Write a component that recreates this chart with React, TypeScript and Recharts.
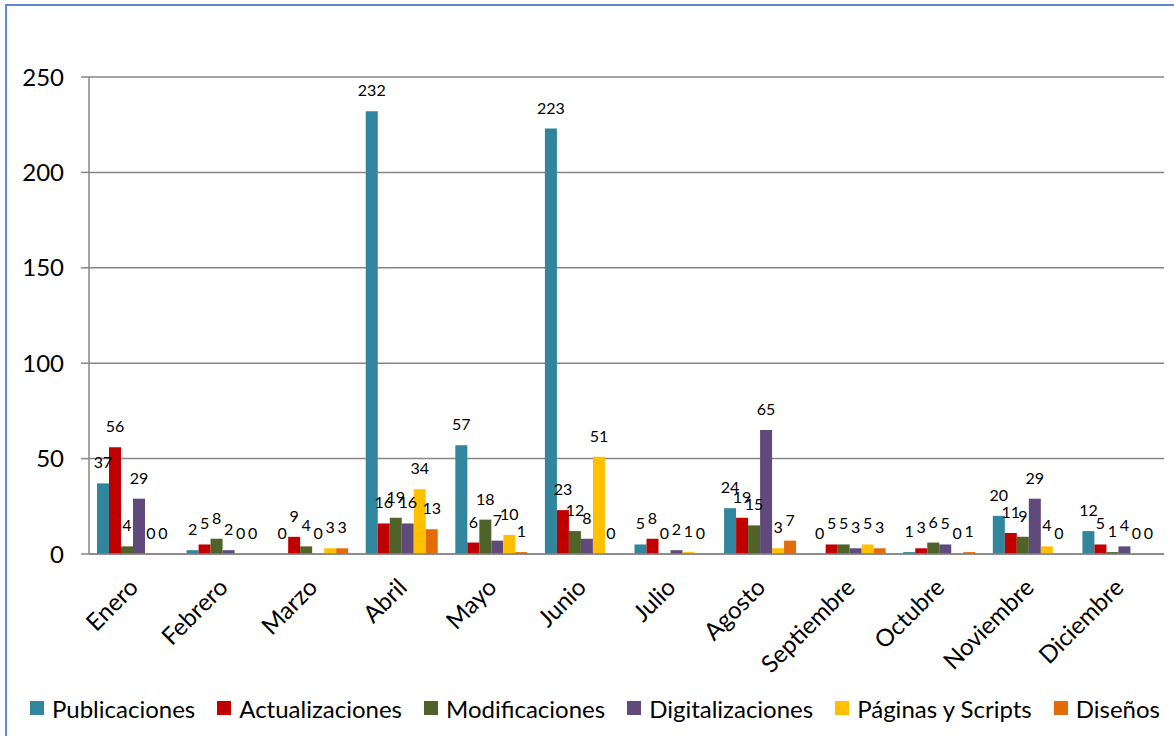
import { Bar, BarChart, CartesianGrid, LabelList, Legend, XAxis, YAxis } from "recharts";

const months = [
  "Enero", "Febrero", "Marzo", "Abril", "Mayo", "Junio",
  "Julio", "Agosto", "Septiembre", "Octubre", "Noviembre", "Diciembre",
];

const publicaciones = [37, 2, 0, 232, 57, 223, 5, 24, 0, 1, 20, 12];
const actualizaciones = [56, 5, 9, 16, 6, 23, 8, 19, 5, 3, 11, 5];
const modificaciones = [4, 8, 4, 19, 18, 12, 0, 15, 5, 6, 9, 1];
const digitalizaciones = [29, 2, 0, 16, 7, 8, 2, 65, 3, 5, 29, 4];
const paginas = [0, 0, 3, 34, 10, 51, 1, 3, 5, 0, 4, 0];
const disenos = [0, 0, 3, 13, 1, 0, 0, 7, 3, 1, 0, 0];

const yTicks = [0, 50, 100, 150, 200, 250];
const edgeTicks = [0, 1, 2, 3, 4, 5, 6, 7, 8, 9, 10, 11, 12];

const series = [
  { key: "pub", name: "Publicaciones", color: "#31859C", values: publicaciones },
  { key: "act", name: "Actualizaciones", color: "#C00000", values: actualizaciones },
  { key: "mod", name: "Modificaciones", color: "#4F6228", values: modificaciones },
  { key: "dig", name: "Digitalizaciones", color: "#604A7B", values: digitalizaciones },
  { key: "pag", name: "Páginas y Scripts", color: "#FFC000", values: paginas },
  { key: "dis", name: "Diseños", color: "#E36C09", values: disenos },
];

const data = months.map((m, i) => {
  const row: Record<string, string | number> = { month: m };
  series.forEach((s) => (row[s.key] = s.values[i]));
  return row;
});

const FONT = "Lato, 'Open Sans', sans-serif";

function MonthTick({ x, y, payload }: { x?: number; y?: number; payload?: { value: string } }) {
  return (
    <g transform={`translate(${(x ?? 0) + 0},${(y ?? 0) + 21})`}>
      <text
        textAnchor="end"
        transform="rotate(-45)"
        fontSize={24}
        fontFamily={FONT}
        fill="#000"
        dy="0.35em"
      >
        {payload?.value}
      </text>
    </g>
  );
}

// value label above every bar, zeros included
function ValueLabel(props: any) {
  const { x, y, width, value } = props;
  if (value == null) return null;
  return (
    <text
      x={Number(x) + Number(width) / 2}
      y={Number(y) - 15}
      textAnchor="middle"
      fontSize={16}
      fontFamily={FONT}
      fill="#000"
    >
      {value}
    </text>
  );
}

function LegendContent() {
  return (
    <div
      style={{
        display: "flex",
        justifyContent: "flex-start",
        alignItems: "center",
        height: 40,
        fontFamily: FONT,
        fontSize: 24,
        color: "#000",
        paddingLeft: 30,
        whiteSpace: "nowrap",
        width: 1174,
        boxSizing: "border-box",
      }}
    >
      {series.map((s) => (
        <div key={s.key} style={{ display: "flex", alignItems: "center", marginRight: 22, flexShrink: 0 }}>
          <span
            style={{ width: 14, height: 14, background: s.color, display: "inline-block", marginRight: 8 }}
          />
          <span>{s.name}</span>
        </div>
      ))}
    </div>
  );
}

export default function App() {
  return (
    <div
      style={{
        position: "absolute",
        left: 0,
        top: 0,
        width: 1174,
        height: 736,
        overflow: "hidden",
        background: "#fff",
      }}
    >
      <div
        style={{
          position: "absolute",
          left: 5,
          top: 4,
          width: 1300,
          height: 800,
          borderLeft: "2px solid #5B8BD6",
          borderTop: "2px solid #5B8BD6",
        }}
      />
      <BarChart
        width={1174}
        height={736}
        data={data}
        margin={{ top: 77, right: 10, bottom: 8, left: 0 }}
        barCategoryGap={8}
        barGap={0}
      >
        <CartesianGrid horizontal vertical={false} stroke="#868686" strokeWidth={1.5} yAxisId="y" xAxisId="cat" />
        <XAxis
          xAxisId="edges"
          type="number"
          domain={[0, 12]}
          ticks={edgeTicks}
          tick={false}
          tickLine={{ stroke: "#868686", strokeWidth: 1.5 }}
          tickSize={8}
          axisLine={false}
          height={0}
          allowDataOverflow
        />
        <XAxis
          xAxisId="cat"
          dataKey="month"
          tick={<MonthTick />}
          tickLine={false}
          axisLine={{ stroke: "#868686", strokeWidth: 1.5 }}
          interval={0}
          height={134}
        />
        <YAxis
          yAxisId="y"
          domain={[0, 250]}
          ticks={yTicks}
          width={89}
          tickSize={8}
          tickMargin={17}
          tick={{ fontSize: 24, fontFamily: FONT, fill: "#000" }}
          tickLine={{ stroke: "#868686", strokeWidth: 1.5 }}
          axisLine={{ stroke: "#868686", strokeWidth: 1.5 }}
        />
        <Legend
          verticalAlign="bottom"
          wrapperStyle={{ left: 0, width: 1174 }}
          content={<LegendContent />}
        />
        {series.map((s) => (
          <Bar
            key={s.key}
            dataKey={s.key}
            name={s.name}
            fill={s.color}
            xAxisId="cat"
            yAxisId="y"
            minPointSize={(v: number) => (v === 0 ? 0.01 : 0)}
            isAnimationActive={false}
          >
            <LabelList dataKey={s.key} content={<ValueLabel />} />
          </Bar>
        ))}
      </BarChart>
    </div>
  );
}
